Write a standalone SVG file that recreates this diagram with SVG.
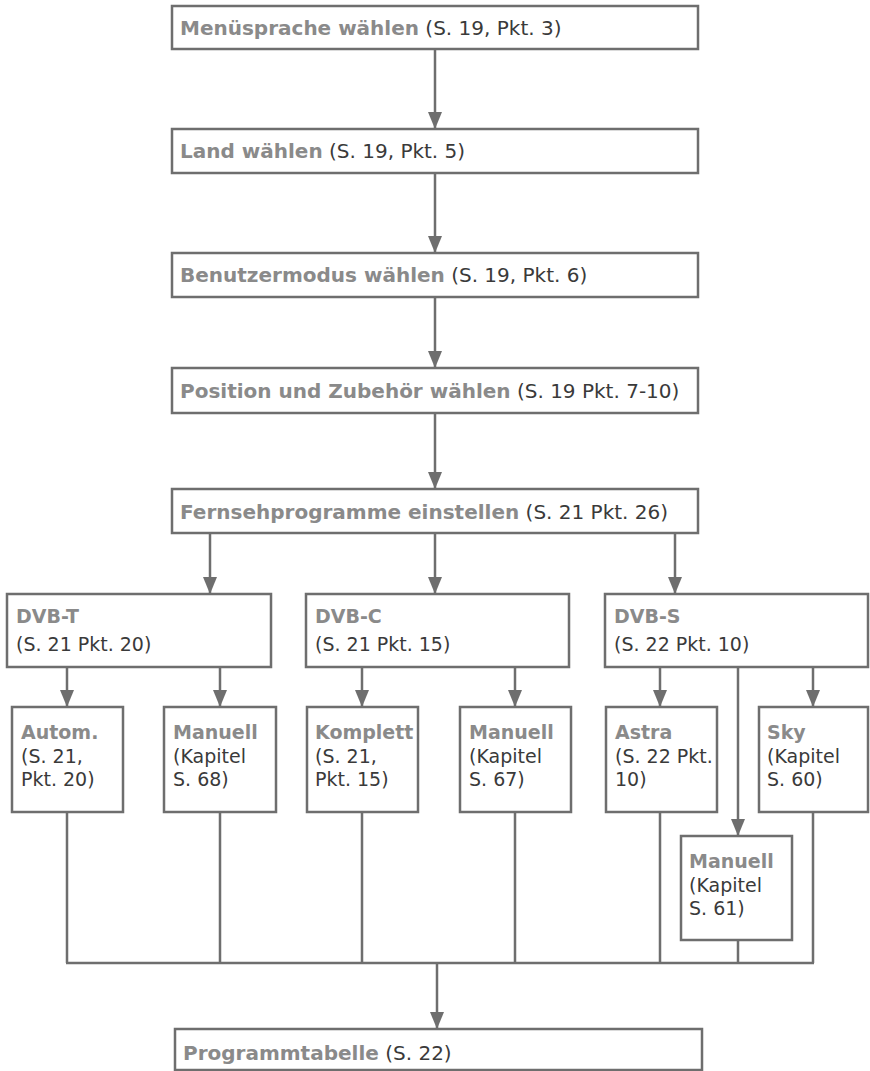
<svg xmlns="http://www.w3.org/2000/svg" width="870" height="1071" viewBox="0 0 870 1071">
<style>
.box{fill:#fff;stroke:#6e6e6e;stroke-width:2.5}
.b{font-family:"DejaVu Sans",sans-serif;font-weight:bold;fill:#8a8a8a}
.n{font-family:"DejaVu Sans",sans-serif;font-weight:normal;fill:#3a3a3a}
.t{font-size:19px}
.big{font-size:20px}
.ln{fill:none;stroke:#6e6e6e;stroke-width:2.5}
</style>
<defs>
<marker id="ah" viewBox="0 0 17 14" refX="17" refY="7" markerWidth="17" markerHeight="14" markerUnits="userSpaceOnUse" orient="auto">
<path d="M0,0 L17,7 L0,14 z" fill="#6e6e6e"/>
</marker>
</defs>
<rect width="870" height="1071" fill="#fff"/>
<g id="connectors">
<line class="ln" x1="435" y1="49" x2="435" y2="129" marker-end="url(#ah)"/>
<line class="ln" x1="435" y1="173" x2="435" y2="253" marker-end="url(#ah)"/>
<line class="ln" x1="435" y1="297" x2="435" y2="368" marker-end="url(#ah)"/>
<line class="ln" x1="435" y1="413" x2="435" y2="489" marker-end="url(#ah)"/>
<line class="ln" x1="210" y1="533" x2="210" y2="594" marker-end="url(#ah)"/>
<line class="ln" x1="435" y1="533" x2="435" y2="594" marker-end="url(#ah)"/>
<line class="ln" x1="675" y1="533" x2="675" y2="594" marker-end="url(#ah)"/>
<line class="ln" x1="67" y1="667" x2="67" y2="707" marker-end="url(#ah)"/>
<line class="ln" x1="220" y1="667" x2="220" y2="707" marker-end="url(#ah)"/>
<line class="ln" x1="362" y1="667" x2="362" y2="707" marker-end="url(#ah)"/>
<line class="ln" x1="515" y1="667" x2="515" y2="707" marker-end="url(#ah)"/>
<line class="ln" x1="660" y1="667" x2="660" y2="707" marker-end="url(#ah)"/>
<line class="ln" x1="813" y1="667" x2="813" y2="707" marker-end="url(#ah)"/>
<line class="ln" x1="738" y1="667" x2="738" y2="836" marker-end="url(#ah)"/>
<path class="ln" d="M67,812 V963 M220,812 V963 M362,812 V963 M515,812 V963 M660,812 V963 M813,812 V963 M738,940 V963 M66,963 H814"/>
<line class="ln" x1="437" y1="963" x2="437" y2="1029" marker-end="url(#ah)"/>
</g>
<g id="n1"><rect class="box" x="172" y="6" width="526" height="43"/><text x="180" y="35" class="big"><tspan class="b">Menüsprache wählen</tspan><tspan class="n"> (S. 19, Pkt. 3)</tspan></text></g>
<g id="n2"><rect class="box" x="172" y="129" width="526" height="44"/><text x="180" y="158" class="big"><tspan class="b">Land wählen</tspan><tspan class="n"> (S. 19, Pkt. 5)</tspan></text></g>
<g id="n3"><rect class="box" x="172" y="253" width="526" height="44"/><text x="180" y="282" class="big"><tspan class="b">Benutzermodus wählen</tspan><tspan class="n"> (S. 19, Pkt. 6)</tspan></text></g>
<g id="n4"><rect class="box" x="172" y="368" width="526" height="45"/><text x="180" y="398" class="big"><tspan class="b">Position und Zubehör wählen</tspan><tspan class="n"> (S. 19 Pkt. 7-10)</tspan></text></g>
<g id="n5"><rect class="box" x="172" y="489" width="526" height="44"/><text x="180" y="519" class="big"><tspan class="b">Fernsehprogramme einstellen</tspan><tspan class="n"> (S. 21 Pkt. 26)</tspan></text></g>
<g id="dvbt"><rect class="box" x="7" y="594" width="264" height="73"/><text x="16" y="623" class="b t">DVB-T</text><text x="16" y="651" class="n t">(S. 21 Pkt. 20)</text></g>
<g id="dvbc"><rect class="box" x="306" y="594" width="263" height="73"/><text x="315" y="623" class="b t">DVB-C</text><text x="315" y="651" class="n t">(S. 21 Pkt. 15)</text></g>
<g id="dvbs"><rect class="box" x="605" y="594" width="263" height="73"/><text x="614" y="623" class="b t">DVB-S</text><text x="614" y="651" class="n t">(S. 22 Pkt. 10)</text></g>
<g id="autom"><rect class="box" x="12" y="707" width="111" height="105"/><text x="21" y="739" class="b t">Autom.</text><text x="21" y="763" class="n t">(S. 21,</text><text x="21" y="786" class="n t">Pkt. 20)</text></g>
<g id="manuell-t"><rect class="box" x="164" y="707" width="112" height="105"/><text x="173" y="739" class="b t">Manuell</text><text x="173" y="763" class="n t">(Kapitel</text><text x="173" y="786" class="n t">S. 68)</text></g>
<g id="komplett"><rect class="box" x="307" y="707" width="111" height="105"/><text x="315" y="739" class="b t">Komplett</text><text x="315" y="763" class="n t">(S. 21,</text><text x="315" y="786" class="n t">Pkt. 15)</text></g>
<g id="manuell-c"><rect class="box" x="460" y="707" width="111" height="105"/><text x="469" y="739" class="b t">Manuell</text><text x="469" y="763" class="n t">(Kapitel</text><text x="469" y="786" class="n t">S. 67)</text></g>
<g id="astra"><rect class="box" x="606" y="707" width="111" height="105"/><text x="615" y="739" class="b t">Astra</text><text x="615" y="763" class="n t">(S. 22 Pkt.</text><text x="615" y="786" class="n t">10)</text></g>
<g id="sky"><rect class="box" x="759" y="707" width="109" height="105"/><text x="767" y="739" class="b t">Sky</text><text x="767" y="763" class="n t">(Kapitel</text><text x="767" y="786" class="n t">S. 60)</text></g>
<g id="manuell-s"><rect class="box" x="681" y="836" width="111" height="104"/><text x="689" y="868" class="b t">Manuell</text><text x="689" y="892" class="n t">(Kapitel</text><text x="689" y="915" class="n t">S. 61)</text></g>
<g id="programmtabelle"><rect class="box" x="175" y="1029" width="527" height="41"/><text x="183" y="1060" class="big"><tspan class="b">Programmtabelle</tspan><tspan class="n"> (S. 22)</tspan></text></g>
</svg>
